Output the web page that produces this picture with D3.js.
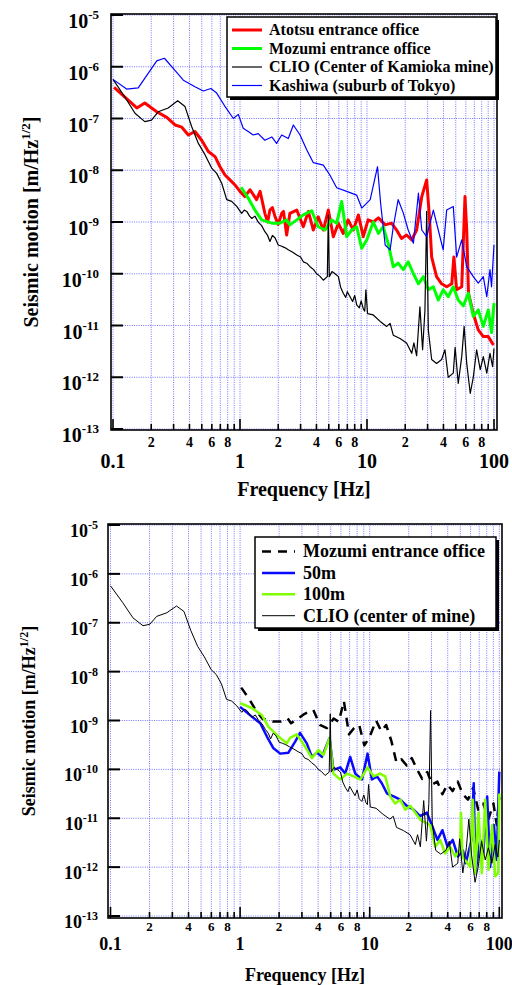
<!DOCTYPE html>
<html><head><meta charset="utf-8">
<script src="https://cdn.jsdelivr.net/npm/d3@7"></script>
<style>
body{margin:0;background:#fff}
svg{display:block}
text{font-family:"Liberation Serif","Times New Roman",Times,serif;font-weight:bold;fill:#000}
</style></head>
<body><svg id="c" width="512" height="985"></svg>
<script>
// ---------------- DATA ----------------
const clioF = [0.1,0.124,0.149,0.178,0.201,0.227,0.272,0.323,0.369,0.416,0.47,0.53,0.598,0.655,0.718,0.786,0.86,0.942,1.03,1.08,1.13,1.19,1.24,1.31,1.39,1.48,1.57,1.65,1.72,1.8,1.89,2.0,2.13,2.25,2.4,2.6,2.8,3.0,3.15,3.35,3.56,3.8,4.01,4.25,4.53,4.87,4.96,5.05,5.3,5.6,5.95,6.2,6.5,6.8,7.0,7.35,7.7,8.0,8.3,8.7,9.0,9.35,9.6,9.8,10.1,11.2,12.7,14.3,15.2,16.1,18.2,20.5,22.5,23.4,24.6,26.1,27.4,28.6,29.5,30.4,32.3,35.3,38.7,41.1,43.6,47.8,49.4,52.3,55.7,58.2,61,65,68.7,73,77.9,82.4,87.7,93,97.5,100];
const clioV = [5.7e-7,2.6e-7,1.26e-7,8.7e-8,9.3e-8,1.35e-7,1.6e-7,2.2e-7,1.7e-7,7e-8,3.3e-8,2.0e-8,1.1e-8,8.7e-9,5.6e-9,2.7e-9,2.5e-9,2.0e-9,1.47e-9,1.7e-9,1.6e-9,1.3e-9,1.17e-9,1.3e-9,1.0e-9,8.5e-10,6.5e-10,5.5e-10,4.2e-10,5.5e-10,4.9e-10,3.6e-10,3.4e-10,3.2e-10,2.9e-10,2.6e-10,2.3e-10,2.1e-10,1.7e-10,1.6e-10,1.37e-10,1.2e-10,1.0e-10,9e-11,7.5e-11,8.8e-11,1.37e-9,8.8e-11,1.1e-10,1.0e-10,8.8e-11,5.5e-11,4.2e-11,3.5e-11,4.5e-11,3.6e-11,2.9e-11,3.8e-11,2.5e-11,2.2e-11,3.0e-11,2.1e-11,1.9e-11,4.9e-11,1.7e-11,1.6e-11,1.2e-11,9.6e-12,1.1e-11,6.5e-12,5.6e-12,4.6e-12,2.9e-12,4.6e-12,2.6e-12,2.3e-11,3.4e-12,2.0e-11,1.6e-9,8.2e-12,2.2e-12,1.85e-12,2.2e-12,3.4e-12,1.0e-12,1.2e-12,3.8e-12,7.6e-13,2.5e-12,9.6e-12,1.85e-12,4.9e-13,1.0e-12,3.4e-12,1.4e-12,2.5e-12,1.2e-12,2.9e-12,1.6e-12,3.6e-12];

const atotsuF = [0.102,0.124,0.154,0.178,0.221,0.265,0.308,0.348,0.392,0.442,0.499,0.563,0.636,0.696,0.762,0.834,0.913,1.0,1.09,1.2,1.35,1.44,1.57,1.65,1.72,1.8,1.89,2.0,2.13,2.2,2.33,2.47,2.8,3.15,3.45,3.78,4.13,4.53,4.96,5.43,5.95,6.5,7.1,7.8,8.55,9.35,10.2,11.2,12.3,13.9,15.6,17.1,18.7,20.5,22.5,24.6,27,29.5,31,32.3,35.3,38.7,42.4,46.5,48.3,50.8,55.7,59.1,61,63,68.7,75.2,82.4,90.1,99];
const atotsuV = [4.0e-7,2.6e-7,1.6e-7,2.0e-7,1.35e-7,1.05e-7,7.5e-8,6.8e-8,4.8e-8,5.6e-8,3.8e-8,2.3e-8,1.83e-8,1.17e-8,8.1e-9,6.5e-9,5.2e-9,3.9e-9,3.1e-9,4.2e-9,2.7e-9,3.9e-9,1.47e-9,1.0e-9,1.7e-9,1.9e-9,1.26e-9,9e-10,1.47e-9,1.6e-9,5.6e-10,1.47e-9,1.7e-9,8.1e-10,1.6e-9,7.0e-10,1.26e-9,7.0e-10,1.7e-9,5.2e-10,9.4e-10,6.0e-10,1.1e-9,7.0e-10,1.37e-9,5.2e-10,1.1e-9,1.0e-9,1.2e-9,8.8e-10,9.5e-10,7.0e-10,4.8e-10,5.6e-10,4.5e-10,7.0e-10,3.1e-9,6.5e-9,1.26e-9,2.1e-10,8.8e-11,6.4e-11,5.6e-11,6.4e-11,2.1e-10,4.9e-11,5.6e-11,3.1e-9,7.0e-10,4.2e-11,1.7e-11,8.2e-12,6.1e-12,6.1e-12,4.2e-12];

const mozumiF = [1.02,1.16,1.31,1.48,1.78,2.06,2.33,2.47,2.8,3.15,3.67,4.13,4.67,5.27,5.77,6.32,6.92,7.58,8.3,9.09,9.95,11.2,12.3,13.4,14.7,16.1,17.6,19.3,21.1,23.2,25.4,27.8,30.4,33.3,36.4,39.8,43.6,47.8,52.3,57.3,62.8,68.7,75.2,82.4,90.1,95.6,100];
const mozumiV = [4.7e-9,2.9e-9,1.7e-9,1.1e-9,9.5e-10,9.5e-10,1.1e-9,8.8e-10,1.1e-9,1.37e-9,1.65e-9,8.1e-10,7e-10,1.1e-9,9.4e-10,2.5e-9,5.2e-10,7e-10,8.1e-10,3.1e-10,4.5e-10,1.0e-9,6e-10,8.1e-10,3.8e-10,1.37e-10,1.6e-10,1.2e-10,1.7e-10,1.0e-10,6.4e-11,8.8e-11,4.9e-11,5.6e-11,3.1e-11,4.9e-11,3.6e-11,5.6e-11,3.1e-11,2.4e-11,4.2e-11,1.5e-11,2.0e-11,9.6e-12,2.0e-11,7.3e-12,2.7e-11];

const kashiwaF = [0.1,0.128,0.158,0.221,0.254,0.298,0.358,0.442,0.514,0.59,0.655,0.752,0.886,0.97,1.06,1.16,1.27,1.39,1.57,1.78,1.94,2.13,2.4,2.63,2.97,3.35,3.78,4.53,5.1,5.77,6.92,8.3,9.09,10.6,12.1,12.8,13.9,15.2,16.1,17.6,19.3,21.1,23.2,25.4,27,29.5,33.3,36.4,39.8,42.4,47.8,50.8,55.7,61,68.7,75.2,82.4,87.7,93,95.6,100];
const kashiwaV = [5.7e-7,3.7e-7,3.9e-7,1.3e-6,1.46e-6,9.3e-7,5.5e-7,4.1e-7,3.4e-7,3.8e-7,3.1e-7,1.8e-7,1.0e-7,1.2e-7,6.5e-8,5.6e-8,4.8e-8,5.1e-8,3.8e-8,4.4e-8,3.3e-8,4.8e-8,4.1e-8,7.5e-8,4.8e-8,2.5e-8,1.4e-8,1.26e-8,8.1e-9,4.6e-9,3.9e-9,3.3e-9,1.86e-9,2.7e-9,1.17e-8,2.3e-9,3.6e-10,2.9e-10,8.1e-10,2.7e-9,1.5e-9,7.0e-10,3.9e-10,3.6e-9,7.0e-10,5.2e-10,1.7e-9,7.0e-10,2.9e-10,1.7e-9,2.0e-9,2.1e-10,4.5e-10,1.37e-10,8.8e-11,6.6e-11,8.8e-11,3.6e-11,1.2e-10,5.6e-11,3.6e-10];

const m50F = [1.0,1.23,1.43,1.61,1.81,2.04,2.36,2.66,2.9,3.27,3.58,3.91,4.28,4.9,5.25,5.92,6.47,7.07,7.74,8.72,9.63,10.4,11.4,12.4,13.6,15.3,17.2,19.3,21.8,24.5,27.6,30.2,33.3,36.4,39.9,43.7,47.9,52.4,55.1,61,63.5,65.3,71.3,75.2,80.6,85,91,95.5,100];
const m50V = [1.9e-9,1.2e-9,8.8e-10,4.7e-10,2.7e-10,2.1e-10,2.2e-10,3.7e-10,5.6e-10,3.4e-10,1.8e-10,2.2e-10,1.8e-10,4.4e-10,9.8e-11,1.1e-10,8.2e-11,1.8e-10,8.2e-11,6.2e-11,2.1e-10,6.2e-11,7.2e-11,5.2e-11,3.2e-11,2.8e-11,2.4e-11,1.8e-11,1.5e-11,1.1e-11,1.3e-11,7.2e-12,3.6e-12,5.7e-12,2.6e-12,3.6e-12,1.65e-12,2.2e-12,1.2e-12,3.6e-12,5.2e-11,7.5e-13,3.6e-12,1.9e-12,2.8e-11,1.0e-12,7.2e-12,1.4e-12,9e-11];

const m100F = [1.0,1.23,1.47,1.65,1.98,2.29,2.43,2.74,3.18,3.58,4.02,4.4,4.9,5.25,5.92,6.68,7.53,8.45,9.63,10.7,12,13.2,14.4,15.7,17.2,18.8,20.6,22.5,24.5,26.8,29.3,32,35,38.2,41.8,45.7,49.9,50.6,52,54.5,59.6,62.4,65.1,69.1,73.3,77.8,82.5,87.9,93,98,100];
const m100V = [2.26e-9,1.8e-9,1.3e-9,7.5e-10,4.7e-10,3.4e-10,4.4e-10,5.2e-10,2.9e-10,1.7e-10,2.5e-10,1.95e-10,4.4e-10,8.2e-11,6.2e-11,8.2e-11,7.2e-11,6.2e-11,1.1e-10,7.2e-11,8.2e-11,7.2e-11,2.8e-11,2.0e-11,2.4e-11,1.5e-11,1.8e-11,1.3e-11,9.4e-12,8.2e-12,7.2e-12,2.6e-12,3.6e-12,1.9e-12,2.6e-12,1.65e-12,2.2e-12,1.3e-11,1.6e-12,1.4e-12,1.0e-12,2.4e-11,7.5e-13,1.3e-11,7.5e-13,2.4e-11,8.8e-13,7.2e-12,6.5e-13,7.5e-13,3.2e-11];

const yExponents = [-5,-6,-7,-8,-9,-10,-11,-12,-13];
const xMajorTicks = [0.1,1,10,100];
const xMajorLabels = ["0.1","1","10","100"];
const xMinorLabelled = [2,4,6,8];
const xTitle = "Frequency [Hz]";
const yTitle = "Seismic motion [m/Hz";
const topLegend = ["Atotsu entrance office","Mozumi entrance office","CLIO (Center of Kamioka mine)","Kashiwa (suburb of Tokyo)"];
const botLegend = ["Mozumi entrance office","50m","100m","CLIO (center of mine)"];

// ---------------- DRAW ----------------
const svg = d3.select("#c");
const zip = (F,V)=>F.map((f,i)=>[f,V[i]]);

function drawPanel(p, id){
  const g = svg.append("g");
  const x = d3.scaleLog().domain([0.1,100]).range(p.xr);
  const y = d3.scaleLog().domain([1e-13,1e-5]).range(p.yr);
  const fr = p.frame;

  g.append("clipPath").attr("id","clip"+id).append("rect")
    .attr("x",fr.l).attr("y",fr.t).attr("width",fr.r-fr.l).attr("height",fr.b-fr.t);

  // grid
  const gx = [];
  for (let e=-1;e<=1;e++) for (let m=1;m<=9;m++) gx.push(+(m*Math.pow(10,e)).toPrecision(3));
  gx.push(100);
  g.append("g").selectAll("line").data(gx).join("line")
    .attr("x1",d=>x(d)).attr("x2",d=>x(d)).attr("y1",fr.t).attr("y2",fr.b)
    .attr("stroke","#7373ff").attr("stroke-width",1).attr("stroke-dasharray","1,1.3");
  g.append("g").selectAll("line").data(yExponents).join("line")
    .attr("x1",fr.l).attr("x2",fr.r).attr("y1",d=>y(Math.pow(10,d))).attr("y2",d=>y(Math.pow(10,d)))
    .attr("stroke","#7373ff").attr("stroke-width",1).attr("stroke-dasharray","1,1.3");

  // series
  const line = d3.line().x(d=>x(d[0])).y(d=>y(d[1]));
  const sg = g.append("g").attr("clip-path","url(#clip"+id+")");
  p.series.forEach(s=>{
    sg.append("path").datum(zip(s.f,s.v)).attr("d",line)
      .attr("fill","none").attr("stroke",s.color).attr("stroke-width",s.w)
      .attr("stroke-linejoin","round")
      .attr("stroke-dasharray",s.dash||null);
  });

  // frame
  g.append("rect").attr("x",fr.l).attr("y",fr.t).attr("width",fr.r-fr.l).attr("height",fr.b-fr.t)
    .attr("fill","none").attr("stroke","#000").attr("stroke-width",1.6);

  // y ticks
  g.append("g").selectAll("line").data(yExponents).join("line")
    .attr("x1",fr.l).attr("x2",fr.l+12).attr("y1",d=>y(Math.pow(10,d))).attr("y2",d=>y(Math.pow(10,d)))
    .attr("stroke","#000").attr("stroke-width",2);
  // x ticks
  g.append("g").selectAll("line").data(gx).join("line")
    .attr("x1",d=>x(d)).attr("x2",d=>x(d)).attr("y1",fr.b)
    .attr("y2",d=>fr.b-(xMajorTicks.includes(d)?11:6))
    .attr("stroke","#000").attr("stroke-width",1.6);

  // y tick labels
  yExponents.forEach(e=>{
    const t = g.append("text").attr("text-anchor","end")
      .attr("x",p.yLabX).attr("y",y(Math.pow(10,e))+p.yLabOff).attr("font-size",p.yFs);
    t.append("tspan").text("10");
    t.append("tspan").attr("dy",-p.supDy).attr("font-size",p.supFs).text(String(e));
  });
  // x labels
  xMajorTicks.forEach((v,i)=>{
    g.append("text").attr("text-anchor","middle").attr("x",x(v)).attr("y",p.xMajY)
      .attr("font-size",p.xMajFs).text(xMajorLabels[i]);
  });
  [0.1,1,10].forEach(dec=>{
    xMinorLabelled.forEach(m=>{
      g.append("text").attr("text-anchor","middle").attr("x",x(m*dec)).attr("y",p.xMinY)
        .attr("font-size",p.xMinFs).text(String(m));
    });
  });
  // titles
  g.append("text").attr("text-anchor","middle").attr("x",(fr.l+fr.r)/2).attr("y",p.xTitleY)
    .attr("font-size",p.titleFs).text(xTitle);
  const yt = g.append("text").attr("text-anchor","middle")
    .attr("transform",`translate(${p.yTitleX},${(fr.t+fr.b)/2}) rotate(-90)`)
    .attr("font-size",p.titleFs);
  yt.append("tspan").text(yTitle);
  yt.append("tspan").attr("dy",-p.titleSupDy).attr("font-size",p.titleSupFs).text("1/2");
  yt.append("tspan").attr("dy",p.titleSupDy).text("]");

  // legend
  const L = p.legend;
  g.append("rect").attr("x",L.x+3).attr("y",L.y+3).attr("width",L.w).attr("height",L.h).attr("fill","#000");
  g.append("rect").attr("x",L.x).attr("y",L.y).attr("width",L.w).attr("height",L.h)
    .attr("fill","#fff").attr("stroke","#000").attr("stroke-width",1.5);
  L.items.forEach((it,i)=>{
    const cy = L.y0 + i*L.dy;
    g.append("line").attr("x1",L.lx1).attr("x2",L.lx2).attr("y1",cy).attr("y2",cy)
      .attr("stroke",it.color).attr("stroke-width",it.w).attr("stroke-dasharray",it.dash||null);
    g.append("text").attr("x",L.tx).attr("y",cy+L.fs*0.33).attr("font-size",L.fs).text(it.label);
  });
}

const cAtotsu="#ff0000", cMozumi="#00ff00", cKashiwa="#0000ff", c50="#0a0aff", c100="#80ff00";

drawPanel({
  xr:[113,494], yr:[429,15], frame:{l:111,t:14,r:497,b:430},
  yLabX:99, yLabOff:13, yFs:20, supFs:13, supDy:9,
  xMajY:468, xMajFs:20, xMinY:447, xMinFs:14,
  xTitleY:496, titleFs:20, yTitleX:38, titleSupDy:8, titleSupFs:13,
  series:[
    {f:atotsuF,v:atotsuV,color:cAtotsu,w:3},
    {f:mozumiF,v:mozumiV,color:cMozumi,w:3},
    {f:clioF,v:clioV,color:"#000",w:1.2},
    {f:kashiwaF,v:kashiwaV,color:cKashiwa,w:1.2}
  ],
  legend:{x:227,y:17,w:269,h:80,y0:30,dy:18.5,lx1:232,lx2:262,tx:269,fs:16,
    items:[
      {label:topLegend[0],color:cAtotsu,w:3},
      {label:topLegend[1],color:cMozumi,w:3},
      {label:topLegend[2],color:"#000",w:1.2},
      {label:topLegend[3],color:cKashiwa,w:1.2}
    ]}
},"T");

drawPanel({
  xr:[110.5,499.3], yr:[916,525], frame:{l:108,t:524,r:502,b:918},
  yLabX:98, yLabOff:12, yFs:18, supFs:12, supDy:8,
  xMajY:950, xMajFs:18, xMinY:931, xMinFs:13,
  xTitleY:981, titleFs:18, yTitleX:35, titleSupDy:7, titleSupFs:12,
  series:[
    {f:mozumiF,v:mozumiV,color:"#000",w:2.5,dash:"9,7"},
    {f:m50F,v:m50V,color:c50,w:2.5},
    {f:m100F,v:m100V,color:c100,w:2.5},
    {f:clioF,v:clioV,color:"#000",w:1}
  ],
  legend:{x:255,y:537,w:241,h:91,y0:551.5,dy:21.4,lx1:262,lx2:295,tx:303,fs:18,
    items:[
      {label:botLegend[0],color:"#000",w:2.5,dash:"9,7"},
      {label:botLegend[1],color:c50,w:2.5},
      {label:botLegend[2],color:c100,w:2.5},
      {label:botLegend[3],color:"#000",w:1}
    ]}
},"B");
</script>
</body></html>
